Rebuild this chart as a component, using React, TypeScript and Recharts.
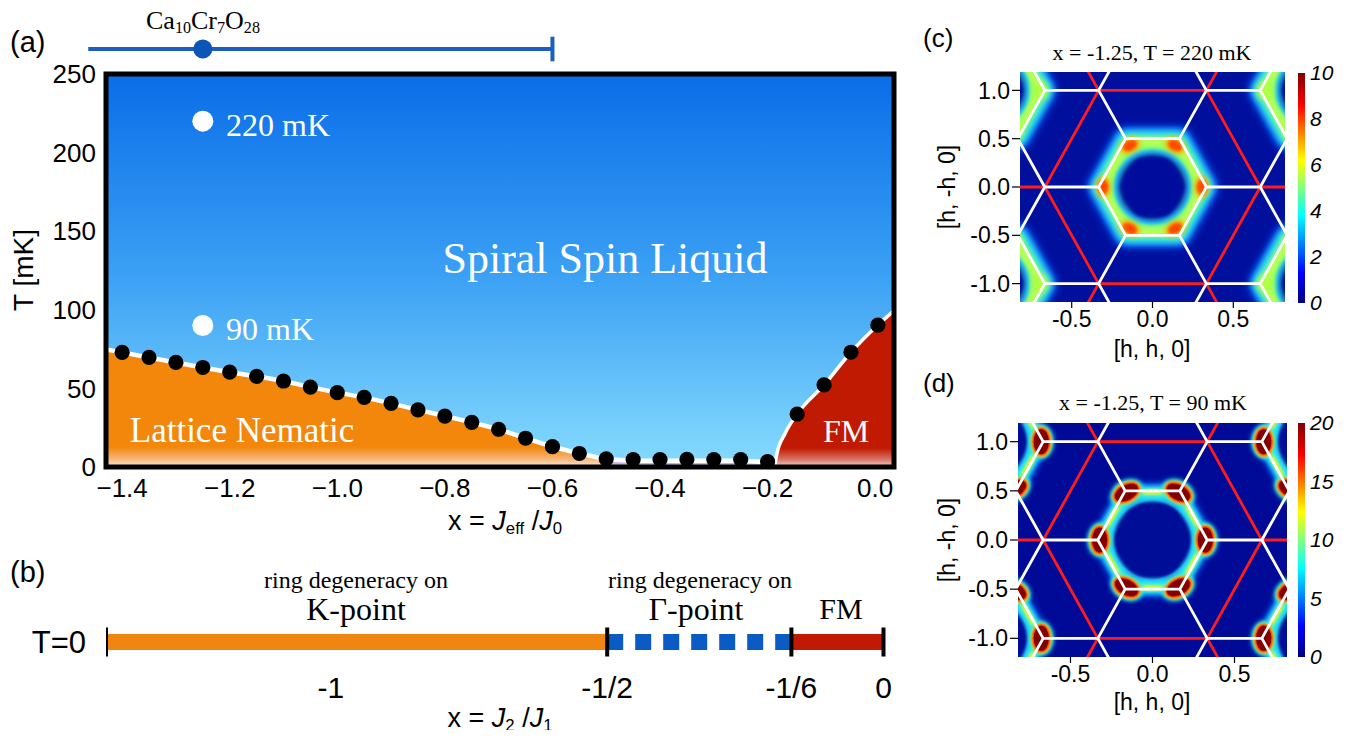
import React from 'react';
import {
  ComposedChart,
  Line,
  Area,
  Scatter,
  XAxis,
  YAxis,
  CartesianGrid,
  ReferenceArea,
  ReferenceLine,
} from 'recharts';

const SANS = "'Liberation Sans', Arial, Helvetica, sans-serif";
const SERIF = "'Liberation Serif', 'Times New Roman', serif";

// ---------------- Panel (a) data ----------------
const aXDomain: [number, number] = [-1.43, 0.035];
const aYDomain: [number, number] = [0, 250];
const aXTicks = [-1.4, -1.2, -1.0, -0.8, -0.6, -0.4, -0.2, 0.0];
const aYTicks = [0, 50, 100, 150, 200, 250];
const aMinorX = [-1.4, -1.35, -1.3, -1.25, -1.2, -1.15, -1.1, -1.05, -1.0, -0.95, -0.9, -0.85, -0.8, -0.75, -0.7, -0.65, -0.6, -0.55, -0.5, -0.45, -0.4, -0.35, -0.3, -0.25, -0.2, -0.15, -0.1, -0.05, 0];
const aMinorY = [10, 20, 30, 40, 50, 60, 70, 80, 90, 100, 110, 120, 130, 140, 150, 160, 170, 180, 190, 200, 210, 220, 230, 240];

// transition temperatures (black dots)
const tcX = [-1.4, -1.35, -1.3, -1.25, -1.2, -1.15, -1.1, -1.05, -1.0, -0.95, -0.9, -0.85, -0.8, -0.75, -0.7, -0.65, -0.6, -0.55, -0.5, -0.45, -0.4, -0.35, -0.3, -0.25, -0.2, -0.145, -0.095, -0.045, 0.005];
const tcT = [72.9, 69.7, 66.5, 63.3, 60.3, 57.7, 54.7, 50.8, 47.3, 44.3, 40.5, 36.3, 32.4, 28.4, 24.0, 18.3, 12.9, 8.6, 5.2, 4.7, 4.7, 4.8, 4.7, 4.7, 3.4, 33.7, 52.2, 73.0, 90.3];

// phase boundaries
const nemBoundX = [-1.43, -1.4, -1.35, -1.3, -1.25, -1.2, -1.15, -1.1, -1.05, -1.0, -0.95, -0.9, -0.85, -0.8, -0.75, -0.7, -0.65, -0.6, -0.55, -0.5];
const nemBoundT = [74.8, 72.9, 69.7, 66.5, 63.3, 60.3, 57.7, 54.7, 50.8, 47.3, 44.3, 40.5, 36.3, 32.4, 28.4, 24.0, 18.3, 12.9, 8.6, 5.0];
const gamBoundX = [-0.5, -0.45, -0.4, -0.35, -0.3, -0.25, -0.2, -0.187];
const gamBoundT = [5.0, 4.0, 3.9, 3.9, 3.9, 3.9, 3.0, 0];
const fmBoundX = [-0.187, -0.183, -0.168, -0.145, -0.095, -0.045, 0.005, 0.035];
const fmBoundT = [0, 8, 21, 33.7, 52.2, 73.0, 90.3, 99.5];

// measured temperatures (white markers)
const markX = [-1.25, -1.25];
const markT = [220, 90];

// Ca10Cr7O28 range
const caX = -1.25;
const caLow = -1.463;
const caHigh = -0.6;

// ---------------- Panel (b) data ----------------
const bDomain: [number, number] = [-1.407, 0.019];
const bTicks = [-1, -0.5, -1 / 6, 0];
const bTickLabels = ['-1', '-1/2', '-1/6', '0'];
const bBounds = [-1.407, -0.5, -1 / 6, 0];

// ---------------- Panels (c),(d) data ----------------
const hXDomain: [number, number] = [-0.82, 0.82];
const hYDomain: [number, number] = [-1.19, 1.19];
const hXTicks = [-0.5, 0, 0.5];
const hYTicks = [-1, -0.5, 0, 0.5, 1];
const ringCenters = [[0, 0], [1, 1], [1, -1], [-1, 1], [-1, -1]];
// first Brillouin-zone hexagon (closed, with overlap for a clean join)
const zoneHex = [[1 / 3, 0], [1 / 6, 0.5], [-1 / 6, 0.5], [-1 / 3, 0], [-1 / 6, -0.5], [1 / 6, -0.5], [1 / 3, 0], [1 / 6, 0.5]];
const spotOffC = [[0.305, 0], [0.14, 0.43], [-0.14, 0.43], [-0.305, 0], [-0.14, -0.43], [0.14, -0.43]];
const spotOffD = [[0.322, 0], [0.158, 0.482], [-0.158, 0.482], [-0.322, 0], [-0.158, -0.482], [0.158, -0.482]];
const cbTicksC = [0, 2, 4, 6, 8, 10];
const cbTicksD = [0, 5, 10, 15, 20];

const h3 = 1 / 3, h6 = 1 / 6, h23 = 2 / 3, h56 = 5 / 6;
const whiteSegs = [
  [[h3, 0], [h6, 0.5]], [[h6, 0.5], [-h6, 0.5]], [[-h6, 0.5], [-h3, 0]], [[-h3, 0], [-h6, -0.5]], [[-h6, -0.5], [h6, -0.5]], [[h6, -0.5], [h3, 0]],
  [[h3, 0], [h23, 0]], [[-h3, 0], [-h23, 0]],
  [[h6, 0.5], [h3, 1]], [[-h6, 0.5], [-h3, 1]], [[h6, -0.5], [h3, -1]], [[-h6, -0.5], [-h3, -1]],
  [[h23, 0], [h56, 0.5]], [[h23, 0], [h56, -0.5]], [[-h23, 0], [-h56, 0.5]], [[-h23, 0], [-h56, -0.5]],
  [[h3, 1], [h23, 1]], [[-h3, 1], [-h23, 1]], [[h3, -1], [h23, -1]], [[-h3, -1], [-h23, -1]],
  [[h3, 1], [h6, 1.5]], [[-h3, 1], [-h6, 1.5]], [[h3, -1], [h6, -1.5]], [[-h3, -1], [-h6, -1.5]],
  [[h23, 1], [h56, 0.5]], [[h23, 1], [h56, 1.5]], [[-h23, 1], [-h56, 0.5]], [[-h23, 1], [-h56, 1.5]],
  [[h23, -1], [h56, -0.5]], [[h23, -1], [h56, -1.5]], [[-h23, -1], [-h56, -0.5]], [[-h23, -1], [-h56, -1.5]],
];
const redSegs = [
  [[h23, 0], [h3, 1]], [[h3, 1], [-h3, 1]], [[-h3, 1], [-h23, 0]], [[-h23, 0], [-h3, -1]], [[-h3, -1], [h3, -1]], [[h3, -1], [h23, 0]],
  [[h23, 0], [4 / 3, 0]], [[-h23, 0], [-4 / 3, 0]],
  [[h3, 1], [h23, 2]], [[-h3, 1], [-h23, 2]], [[h3, -1], [h23, -2]], [[-h3, -1], [-h23, -2]],
];

// ---------------- helpers ----------------
const zip = (xs: number[], ys: number[]) => xs.map((x, i) => ({ x, y: ys[i] }));
const segData = (segs: number[][][]) =>
  segs.flatMap(([a, b]) => [{ x: a[0], y: a[1] }, { x: b[0], y: b[1] }, { x: b[0], y: null }]);
const scaleShape = (shape: number[][], s: number) => shape.map(([ox, oy]) => [ox * s, oy * s]);
const ringData = (shape: number[][], c: number[]) => shape.map(([ox, oy]) => ({ x: c[0] + ox, y: c[1] + oy }));
const spotData = (offs: number[][]) =>
  ringCenters.flatMap((c, ci) => offs.map(([ox, oy]) => ({ x: c[0] + ox, y: c[1] + oy, ox, oy, main: ci === 0 })));
const holeData = ringCenters.map((c) => ({ x: c[0], y: c[1] }));
const fid = (pid: string, s: number) => `${pid}b${Math.round(s * 10)}`;

function Txt(props: any) {
  const { x, y, size, color = '#000', serif = false, rotate = 0, left = false, italic = false, children } = props;
  return (
    <div
      style={{
        position: 'absolute',
        left: x - 8,
        top: y - 8,
        transform: `translate(${left ? '0' : '-50%'}, -50%) rotate(${rotate}deg)`,
        fontSize: size,
        lineHeight: 1,
        whiteSpace: 'nowrap',
        color,
        fontFamily: serif ? SERIF : SANS,
        fontStyle: italic ? 'italic' : 'normal',
      }}
    >
      {children}
    </div>
  );
}

const subS: React.CSSProperties = { fontSize: '0.62em', verticalAlign: '-0.25em', lineHeight: 0 };

// ---------------- Panel (a) ----------------
function PanelA() {
  const blackDot = (p: any) => <circle cx={p.cx} cy={p.cy} r={7.6} fill="#000" />;
  const whiteDot = (p: any) => <circle cx={p.cx} cy={p.cy} r={10.5} fill="#fff" />;
  const minorTick = { stroke: '#2a3550', strokeWidth: 1 };
  return (
    <div style={{ position: 'absolute', left: 0, top: 0 }}>
      <ComposedChart width={900} height={540} margin={{ top: 66, right: 14, bottom: 41, left: 38 }}>
        <defs>
          <linearGradient id="skyA" x1="0" y1="0" x2="0" y2="1">
            <stop offset="0" stopColor="#0a6de8" />
            <stop offset="0.5" stopColor="#3a9ff4" />
            <stop offset="1" stopColor="#86dbfd" />
          </linearGradient>
          <linearGradient id="nemA" x1="0" y1="0" x2="0" y2="1">
            <stop offset="0" stopColor="#f2870c" />
            <stop offset="0.83" stopColor="#f2870c" />
            <stop offset="0.93" stopColor="#f6b577" />
            <stop offset="1" stopColor="#fbe7d4" />
          </linearGradient>
          <linearGradient id="fmA" x1="0" y1="0" x2="0" y2="1">
            <stop offset="0" stopColor="#c11a02" />
            <stop offset="0.88" stopColor="#c11a02" />
            <stop offset="0.95" stopColor="#d77262" />
            <stop offset="1" stopColor="#f1d5d1" />
          </linearGradient>
        </defs>
        <CartesianGrid horizontal={false} vertical={false} fill="url(#skyA)" />
        <XAxis
          type="number"
          dataKey="x"
          domain={aXDomain}
          allowDataOverflow
          ticks={aXTicks}
          interval={0}
          tickFormatter={(v: number) => (v < -1e-9 ? '\u2212' : '') + Math.abs(v).toFixed(1)}
          axisLine={false}
          tickLine={false}
          tickSize={0}
          tickMargin={12}
          height={40}
          tick={{ fontSize: 26, fill: '#000', fontFamily: SANS }}
        />
        <YAxis
          type="number"
          dataKey="y"
          domain={aYDomain}
          allowDataOverflow
          ticks={aYTicks}
          interval={0}
          axisLine={false}
          tickLine={false}
          tickSize={0}
          tickMargin={10}
          width={60}
          tick={{ fontSize: 26, fill: '#000', fontFamily: SANS }}
        />
        <XAxis xAxisId="mb" type="number" dataKey="x" domain={aXDomain} allowDataOverflow ticks={aMinorX} interval={0} mirror tick={false} axisLine={false} tickLine={minorTick} tickSize={6} height={0} />
        <XAxis xAxisId="mt" orientation="top" type="number" dataKey="x" domain={aXDomain} allowDataOverflow ticks={aMinorX} interval={0} mirror tick={false} axisLine={false} tickLine={minorTick} tickSize={6} height={0} />
        <YAxis yAxisId="ml" type="number" dataKey="y" domain={aYDomain} allowDataOverflow ticks={aMinorY} interval={0} mirror tick={false} axisLine={false} tickLine={minorTick} tickSize={6} width={0} />
        <YAxis yAxisId="mr" orientation="right" type="number" dataKey="y" domain={aYDomain} allowDataOverflow ticks={aMinorY} interval={0} mirror tick={false} axisLine={false} tickLine={minorTick} tickSize={6} width={0} />

        <Area data={zip(nemBoundX, nemBoundT)} dataKey="y" type="linear" fill="url(#nemA)" fillOpacity={1} stroke="none" isAnimationActive={false} zIndex={100} />
        <Area data={zip(gamBoundX, gamBoundT)} dataKey="y" type="linear" fill="#c4b4e2" fillOpacity={1} stroke="none" isAnimationActive={false} zIndex={100} />
        <Area data={zip(fmBoundX, fmBoundT)} dataKey="y" type="monotone" fill="url(#fmA)" fillOpacity={1} stroke="#fff" strokeWidth={3.5} isAnimationActive={false} zIndex={110} />
        <Line data={zip([...nemBoundX, ...gamBoundX.slice(1)], [...nemBoundT, ...gamBoundT.slice(1)])} dataKey="y" type="linear" stroke="#fff" strokeWidth={4.5} dot={false} activeDot={false} isAnimationActive={false} zIndex={400} />
        <Scatter data={zip(tcX, tcT)} dataKey="y" shape={blackDot} isAnimationActive={false} zIndex={600} />
        <Scatter data={zip(markX, markT)} dataKey="y" shape={whiteDot} isAnimationActive={false} zIndex={600} />
        <ReferenceArea x1={aXDomain[0]} x2={aXDomain[1]} y1={0} y2={250} fill="none" fillOpacity={0} stroke="#000" strokeWidth={5} ifOverflow="visible" zIndex={2500} />
      </ComposedChart>
    </div>
  );
}

function CaBar() {
  const dot = (p: any) => <circle cx={p.cx} cy={p.cy} r={9.5} fill="#0b55b6" />;
  return (
    <div style={{ position: 'absolute', left: 0, top: 0 }}>
      <ComposedChart width={900} height={82} margin={{ top: 0, right: 14, bottom: 0, left: 98 }}>
        <XAxis type="number" dataKey="x" domain={aXDomain} allowDataOverflow hide />
        <YAxis type="number" dataKey="y" domain={[0, 1]} allowDataOverflow hide />
        <ReferenceLine segment={[{ x: caLow, y: 0.5 }, { x: caHigh, y: 0.5 }]} stroke="#1a5fbf" strokeWidth={4} ifOverflow="visible" />
        <ReferenceLine segment={[{ x: caHigh, y: 0.35 }, { x: caHigh, y: 0.65 }]} stroke="#1a5fbf" strokeWidth={4} ifOverflow="visible" />
        <Scatter data={[{ x: caX, y: 0.5 }]} dataKey="y" shape={dot} isAnimationActive={false} />
      </ComposedChart>
    </div>
  );
}

// ---------------- Panel (b) ----------------
function PanelB() {
  const tickLines = bBounds.flatMap((x) => [{ x, y: -0.58 }, { x, y: 0.58 }, { x, y: null }]);
  return (
    <div style={{ position: 'absolute', left: 0, top: 600 }}>
      <ComposedChart width={900} height={99} margin={{ top: 9, right: 14, bottom: 0, left: 18 }}>
        <XAxis
          type="number"
          dataKey="x"
          domain={bDomain}
          allowDataOverflow
          ticks={bTicks}
          interval={0}
          tickFormatter={(v: number) => {
            const i = bTicks.findIndex((t) => Math.abs(t - v) < 1e-6);
            return i >= 0 ? bTickLabels[i] : '';
          }}
          axisLine={false}
          tickLine={false}
          tickSize={0}
          tickMargin={10}
          height={40}
          tick={{ fontSize: 30, fill: '#000', fontFamily: SANS }}
        />
        <YAxis
          type="number"
          dataKey="y"
          domain={[-1, 1]}
          allowDataOverflow
          ticks={[0]}
          interval={0}
          tickFormatter={() => 'T=0'}
          axisLine={false}
          tickLine={false}
          tickSize={0}
          tickMargin={20}
          width={80}
          tick={{ fontSize: 31, fill: '#000', fontFamily: SANS }}
        />
        <Line data={zip([bBounds[0], bBounds[1]], [0, 0])} dataKey="y" stroke="#f0860f" strokeWidth={16} dot={false} activeDot={false} isAnimationActive={false} />
        <Line data={zip([bBounds[1], bBounds[2]], [0, 0])} dataKey="y" stroke="#0a5bc4" strokeWidth={16} strokeDasharray="16 12" dot={false} activeDot={false} isAnimationActive={false} />
        <Line data={zip([bBounds[2], bBounds[3]], [0, 0])} dataKey="y" stroke="#c01a04" strokeWidth={16} dot={false} activeDot={false} isAnimationActive={false} />
        <Line data={tickLines} dataKey="y" stroke="#000" strokeWidth={4} dot={false} activeDot={false} isAnimationActive={false} />
      </ComposedChart>
    </div>
  );
}

// ---------------- Heat maps ----------------
function HeatPanel(props: any) {
  const { pid, left, top, width, height, margin, bg, layers, spots, spotShape, hole } = props;
  const blurs = [0.6, 1, 1.5, 2, 2.5, 3, 3.5, 4, 5, 6];
  const holeShape = (p: any) => (
    <g>
      <ellipse cx={p.cx} cy={p.cy} rx={hole.rx + 2} ry={hole.ry + 2} fill="none" stroke={hole.rim} strokeWidth={hole.rimW} filter={`url(#${fid(pid, 1.5)})`} />
      <ellipse cx={p.cx} cy={p.cy} rx={hole.rx} ry={hole.ry} fill={bg} filter={`url(#${fid(pid, hole.blur)})`} />
    </g>
  );
  return (
    <div style={{ position: 'absolute', left, top }}>
      <ComposedChart width={width} height={height} margin={margin}>
        <defs>
          {blurs.map((s) => (
            <filter key={s} id={fid(pid, s)} x="-60%" y="-60%" width="220%" height="220%">
              <feGaussianBlur stdDeviation={s} />
            </filter>
          ))}
        </defs>
        <CartesianGrid horizontal={false} vertical={false} fill={bg} />
        <XAxis
          type="number"
          dataKey="x"
          domain={hXDomain}
          allowDataOverflow
          ticks={hXTicks}
          interval={0}
          tickFormatter={(v: number) => v.toFixed(1)}
          axisLine={false}
          tickLine={{ stroke: '#000', strokeWidth: 1.2 }}
          tickSize={6}
          tickMargin={3}
          height={35}
          tick={{ fontSize: 23, fill: '#000', fontFamily: SANS }}
        />
        <YAxis
          type="number"
          dataKey="y"
          domain={hYDomain}
          allowDataOverflow
          ticks={hYTicks}
          interval={0}
          tickFormatter={(v: number) => v.toFixed(1)}
          axisLine={false}
          tickLine={{ stroke: '#000', strokeWidth: 1.2 }}
          tickSize={8}
          tickMargin={2}
          width={62}
          tick={{ fontSize: 23, fill: '#000', fontFamily: SANS }}
        />
        {layers.flatMap((l: any, li: number) =>
          ringCenters.map((c, ci) => (
            <Line
              key={`r${li}-${ci}`}
              data={ringData(scaleShape(zoneHex, l.s), c)}
              dataKey="y"
              type="linear"
              stroke={l.color}
              strokeWidth={l.w}
              strokeOpacity={l.op}
              strokeLinejoin="round"
              strokeLinecap="round"
              filter={`url(#${fid(pid, l.blur)})`}
              dot={false}
              activeDot={false}
              isAnimationActive={false}
              zIndex={300 + li}
            />
          ))
        )}
        <Scatter data={holeData} dataKey="y" shape={holeShape} isAnimationActive={false} zIndex={340} />
        <Scatter data={spots} dataKey="y" shape={spotShape} isAnimationActive={false} zIndex={350} />
        <Line data={segData(redSegs)} dataKey="y" type="linear" stroke="#ff1c1c" strokeWidth={2.8} dot={false} activeDot={false} isAnimationActive={false} zIndex={420} />
        <Line data={segData(whiteSegs)} dataKey="y" type="linear" stroke="#ffffff" strokeWidth={2.8} dot={false} activeDot={false} isAnimationActive={false} zIndex={450} />
      </ComposedChart>
    </div>
  );
}

function ColorBar(props: any) {
  const { id, left, top, height, ticks, max } = props;
  return (
    <div style={{ position: 'absolute', left, top }}>
      <ComposedChart width={60} height={height} margin={{ top: 14, right: 3, bottom: 14, left: 10 }}>
        <defs>
          <linearGradient id={id} x1="0" y1="0" x2="0" y2="1">
            <stop offset="0" stopColor="#800000" />
            <stop offset="0.14" stopColor="#ff0000" />
            <stop offset="0.38" stopColor="#ffff00" />
            <stop offset="0.62" stopColor="#00ffff" />
            <stop offset="0.87" stopColor="#0000ff" />
            <stop offset="1" stopColor="#000080" />
          </linearGradient>
        </defs>
        <CartesianGrid horizontal={false} vertical={false} fill={`url(#${id})`} />
        <XAxis type="number" dataKey="x" domain={[0, 1]} hide />
        <YAxis
          orientation="right"
          type="number"
          dataKey="y"
          domain={[0, max]}
          allowDataOverflow
          ticks={ticks}
          interval={0}
          axisLine={false}
          tickLine={false}
          tickSize={0}
          tickMargin={5}
          width={40}
          tick={{ fontSize: 21, fill: '#000', fontFamily: SANS, fontStyle: 'italic' }}
        />
        <Scatter data={[]} dataKey="y" isAnimationActive={false} />
      </ComposedChart>
    </div>
  );
}

export default function App() {
  const layersC = [
    { s: 1.0, color: '#0a4cff', w: 24, op: 0.9, blur: 4 },
    { s: 0.92, color: '#1edcff', w: 26, op: 1, blur: 3 },
    { s: 0.88, color: '#8cff6e', w: 17, op: 1, blur: 3 },
    { s: 0.93, color: '#c4ff4c', w: 6, op: 0.9, blur: 2 },
  ];
  const layersD = [
    { s: 1.0, color: '#1060ff', w: 15, op: 0.9, blur: 3 },
    { s: 0.94, color: '#1ee4ff', w: 16, op: 1, blur: 2 },
    { s: 0.97, color: '#b8ff50', w: 6, op: 1, blur: 1.5 },
    { s: 0.985, color: '#ffe030', w: 2.5, op: 0.9, blur: 1 },
  ];
  const spotShapeC = (p: any) => {
    const { cx, cy, payload } = p;
    const ang = (Math.atan2(-payload.oy * 0.6, payload.ox) * 180) / Math.PI;
    if (payload.main) {
      return (
        <g transform={`rotate(${ang} ${cx} ${cy})`}>
          <ellipse cx={cx} cy={cy} rx={7.5} ry={11} fill="#ffb000" filter={`url(#${fid('hc', 2.5)})`} />
          <ellipse cx={cx} cy={cy} rx={5} ry={7.5} fill="#ff4a00" filter={`url(#${fid('hc', 1.5)})`} />
        </g>
      );
    }
    return <ellipse cx={cx} cy={cy} rx={8} ry={9} fill="#b0ff40" filter={`url(#${fid('hc', 3)})`} />;
  };
  const spotShapeD = (p: any) => {
    const { cx, cy, payload } = p;
    const ang = (Math.atan2(-payload.oy * 0.6, payload.ox) * 180) / Math.PI;
    return (
      <g transform={`rotate(${ang} ${cx} ${cy})`}>
        <ellipse cx={cx} cy={cy} rx={12.5} ry={17.5} fill="#14e6ff" filter={`url(#${fid('hd', 2)})`} />
        <ellipse cx={cx} cy={cy} rx={10.5} ry={15.5} fill="#ffe000" filter={`url(#${fid('hd', 1.5)})`} />
        <ellipse cx={cx} cy={cy} rx={9} ry={14} fill="#ff1800" filter={`url(#${fid('hd', 1)})`} />
        <ellipse cx={cx} cy={cy} rx={7.5} ry={12.5} fill="#820000" filter={`url(#${fid('hd', 0.6)})`} />
      </g>
    );
  };

  return (
    <div style={{ position: 'relative', width: 1340, height: 722, fontFamily: SANS }}>
      <PanelA />
      <CaBar />
      <PanelB />
      <HeatPanel
        pid="hc"
        left={940}
        top={40}
        width={360}
        height={289}
        margin={{ top: 24, right: 23, bottom: 0, left: 10 }}
        bg="#000f9c"
        layers={layersC}
        spots={spotData(spotOffC)}
        spotShape={spotShapeC}
        hole={{ rx: 34, ry: 33, blur: 3, rim: '#22d8ff', rimW: 5 }}
      />
      <ColorBar id="jetC" left={1280} top={51} height={258} ticks={cbTicksC} max={10} />
      <HeatPanel
        pid="hd"
        left={938}
        top={391}
        width={360}
        height={293}
        margin={{ top: 24, right: 19, bottom: 0, left: 10 }}
        bg="#000a96"
        layers={layersD}
        spots={spotData(spotOffD)}
        spotShape={spotShapeD}
        hole={{ rx: 38, ry: 38, blur: 2, rim: '#30e8ff', rimW: 3 }}
      />
      <ColorBar id="jetD" left={1280} top={401} height={262} ticks={cbTicksD} max={20} />

      {/* Panel (a) texts */}
      <Txt x={10} y={42} size={29} left>(a)</Txt>
      <Txt x={203} y={21} size={26} serif>
        Ca<span style={subS}>10</span>Cr<span style={subS}>7</span>O<span style={subS}>28</span>
      </Txt>
      <Txt x={226} y={125} size={32} serif color="#fff" left>220 mK</Txt>
      <Txt x={226} y={329} size={32} serif color="#fff" left>90 mK</Txt>
      <Txt x={605} y={259} size={44} serif color="#fff">Spiral Spin Liquid</Txt>
      <Txt x={242} y={430} size={35} serif color="#fff">Lattice Nematic</Txt>
      <Txt x={846} y={431} size={32} serif color="#fff">FM</Txt>
      <Txt x={24} y={270} size={28} rotate={-90}>T [mK]</Txt>
      <Txt x={505} y={521} size={27}>
        x = <i>J</i><span style={subS}>eff</span> /<i>J</i><span style={subS}>0</span>
      </Txt>

      {/* Panel (b) texts */}
      <Txt x={10} y={572} size={29} left>(b)</Txt>
      <Txt x={356} y={580} size={24} serif>ring degeneracy on</Txt>
      <Txt x={356} y={609} size={32} serif>K-point</Txt>
      <Txt x={700} y={580} size={24} serif>ring degeneracy on</Txt>
      <Txt x={696} y={609} size={32} serif>Γ-point</Txt>
      <Txt x={841} y={609} size={30} serif>FM</Txt>
      <Txt x={500} y={718} size={27}>
        x = <i>J</i><span style={subS}>2</span> /<i>J</i><span style={subS}>1</span>
      </Txt>

      {/* Panel (c) texts */}
      <Txt x={923} y={38} size={26} left>(c)</Txt>
      <Txt x={1152} y={53} size={22} serif>x = -1.25, T = 220 mK</Txt>
      <Txt x={1152} y={349} size={23}>[h, h, 0]</Txt>
      <Txt x={947} y={187} size={23} rotate={-90}>[h, -h, 0]</Txt>

      {/* Panel (d) texts */}
      <Txt x={923} y={383} size={26} left>(d)</Txt>
      <Txt x={1153} y={403} size={22} serif>x = -1.25, T = 90 mK</Txt>
      <Txt x={1152} y={702} size={23}>[h, h, 0]</Txt>
      <Txt x={947} y={540} size={23} rotate={-90}>[h, -h, 0]</Txt>
    </div>
  );
}
